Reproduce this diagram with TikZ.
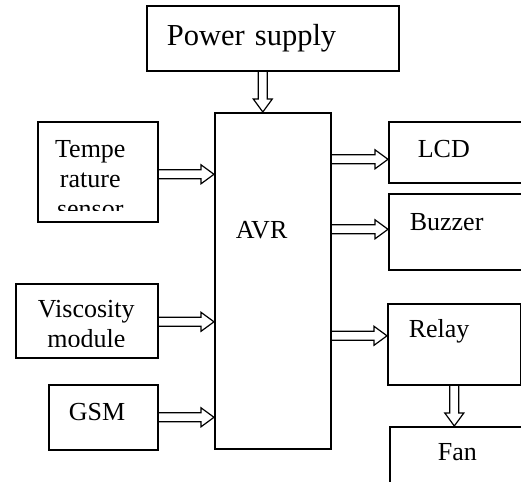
\documentclass[tikz,border=0pt]{standalone}
\usepackage{fontspec}
\setmainfont{Liberation Serif}
\usetikzlibrary{calc}
\newcommand{\bodyfont}{\fontsize{26}{30}\selectfont}

\begin{document}
\begin{tikzpicture}[
    x=1pt, y=-1pt,
    % block boxes
    box/.style={rectangle, draw=black, line width=1.6pt, anchor=north west, inner xsep=0pt, inner ysep=0pt, align=left, font=\bodyfont},
    % text that the box cuts off at its lower edge
    cuttext/.style n args={4}{path picture={
        \clip (path picture bounding box.north west) rectangle ([yshift=#3]path picture bounding box.south east);
        \node[draw=none, anchor=base, inner sep=0pt, minimum width=0pt, minimum height=0pt, text width=130pt, align=center, font=\bodyfont]
            at ([shift={(#1,#2)}]path picture bounding box.north west) {#4};}},
    % hollow double-line arrows
    hollow/.style={draw=black, line width=1.2pt, to path={
        let \p1=(\tikztostart), \p2=(\tikztotarget),
            \n1={atan2(\y2-\y1,\x2-\x1)}, \n2={veclen(\x2-\x1,\y2-\y1)} in
        [shift={(\p1)}, rotate=\n1]
        (0pt,4.5pt) -- (\n2-13pt,4.5pt) -- (\n2-13pt,9.5pt) -- (\n2,0pt)
        -- (\n2-13pt,-9.5pt) -- (\n2-13pt,-4.5pt) -- (0pt,-4.5pt)}}
]
\clip (0,0) rectangle (521,481);

% Placing the boxes
\node (power) [box, font=\fontsize{30.5}{34}\selectfont, minimum width=252pt, minimum height=65pt, inner xsep=20pt, text width=212pt, text height=40pt, text depth=25pt] at (146,5) {Power supply};
\node (avr) [box, minimum width=116pt, minimum height=336pt, inner xsep=21pt, text width=74pt, text height=126pt, text depth=210pt] at (214,112) {AVR};

\node (temp) [box, minimum width=120pt, minimum height=100pt, cuttext={52.5pt}{-36pt}{11pt}{Tempe\\rature\\sensor}] at (37,121) {};
\node (visc) [box, minimum width=142pt, minimum height=74pt, cuttext={70.5pt}{-34pt}{11pt}{Viscosity\\module}] at (15,283) {};
\node (gsm) [box, minimum width=109pt, minimum height=65pt, inner xsep=20pt, text width=69pt, text height=36pt, text depth=29pt] at (48,384) {GSM};

\node (lcd) [box, minimum width=170pt, minimum height=61pt, inner xsep=29pt, text width=112pt, text height=36pt, text depth=25pt] at (388,121) {LCD};
\node (buzzer) [box, minimum width=170pt, minimum height=76pt, inner xsep=21pt, text width=128pt, text height=37pt, text depth=39pt] at (388,193) {Buzzer};
\node (relay) [box, minimum width=133pt, minimum height=81pt, inner xsep=21pt, text width=91pt, text height=34pt, text depth=47pt] at (387,303) {Relay};
\node (fan) [box, minimum width=170pt, minimum height=94pt, inner xsep=48pt, text width=74pt, text height=34pt, text depth=60pt] at (389,426) {Fan};

% Connecting the boxes
\draw [hollow] ($(power.south)+(-10,0)$) to ($(power.south |- avr.north)+(-10,0)$);

\draw [hollow] ($(temp.east)+(0,2.5)$) to ($(temp.east -| avr.west)+(0,2.5)$);
\draw [hollow] ($(visc.east)+(0,1)$) to ($(visc.east -| avr.west)+(0,1)$);
\draw [hollow] (gsm.east) to (gsm.east -| avr.west);

\draw [hollow] ($(lcd.west -| avr.east)+(0,7)$) to ($(lcd.west)+(0,7)$);
\draw [hollow] ($(buzzer.west -| avr.east)+(0,-2.5)$) to ($(buzzer.west)+(0,-2.5)$);
\draw [hollow] ($(relay.west -| avr.east)+(0,-8.5)$) to ($(relay.west)+(0,-8.5)$);

\draw [hollow] (relay.south) to (relay.south |- fan.north);

\end{tikzpicture}
\end{document}
